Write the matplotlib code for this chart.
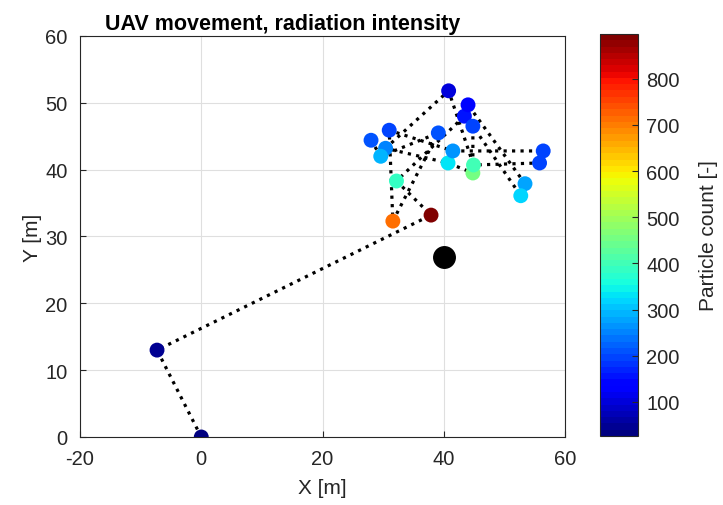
import matplotlib
matplotlib.use("Agg")
import matplotlib.pyplot as plt
import numpy as np

# waypoints in flight order (x, y in metres) and particle counts
path_x = [0.0, -7.3, 37.9, 32.2, 43.4, 44.0, 53.4, 52.7, 44.8, 44.8, 40.7,
          30.4, 40.8, 44.9, 55.8, 56.4, 41.5, 31.0, 31.6, 39.1, 29.6, 28.0]
path_y = [0.0, 13.0, 33.2, 38.3, 48.0, 49.7, 37.9, 36.1, 46.5, 39.5, 41.0,
          43.2, 51.8, 40.7, 41.0, 42.8, 42.8, 45.9, 32.3, 45.5, 42.0, 44.4]
counts = [26, 50, 897, 390, 150, 140, 275, 320, 190, 460, 330,
          245, 100, 395, 195, 190, 265, 200, 715, 205, 285, 215]

source_x = 40.1
source_y = 27.0

ink = "#262626"
plt.rcParams["font.family"] = ["Liberation Sans", "DejaVu Sans"]
plt.rcParams["axes.unicode_minus"] = False

fig = plt.figure(figsize=(7.23, 5.06), dpi=100)
ax = fig.add_axes([0.1107, 0.1344, 0.6708, 0.7925])
cax = fig.add_axes([0.8299, 0.1364, 0.0526, 0.7945])

cmap = plt.get_cmap("jet", 64)

ax.plot(path_x, path_y, linestyle=":", color="black", linewidth=2.3, zorder=2)
sc = ax.scatter(path_x, path_y, c=counts, cmap=cmap, vmin=min(counts),
                vmax=max(counts), s=115, edgecolors="none", zorder=3)
ax.scatter([source_x], [source_y], color="black", s=240, zorder=4)

ax.set_xlim(-20, 60)
ax.set_ylim(0, 60)
ax.set_xticks(np.arange(-20, 61, 20))
ax.set_yticks(np.arange(0, 61, 10))
ax.grid(True, color="#dfdfdf", linewidth=0.8)
ax.set_axisbelow(True)
ax.tick_params(direction="in", labelsize=14.5, colors=ink, length=4, width=0.8)
ax.tick_params(axis="x", pad=9)
ax.tick_params(axis="y", pad=9)
for sp in ax.spines.values():
    sp.set_color(ink)
    sp.set_linewidth(0.8)
ax.set_xlabel("X [m]", fontsize=15, color=ink, labelpad=7)
ax.set_ylabel("Y [m]", fontsize=15, color=ink, labelpad=2)
ax.set_title("UAV movement, radiation intensity", fontsize=15.5,
             fontweight="bold", x=0.4186, pad=5)

cb = fig.colorbar(sc, cax=cax)
cb.set_ticks(np.arange(100, 801, 100))
cb.ax.tick_params(direction="in", labelsize=14.5, colors=ink, length=4,
                  width=0.8, pad=6)
cb.outline.set_edgecolor(ink)
cb.outline.set_linewidth(0.8)
cb.set_label("Particle count [-]", fontsize=15, color=ink, labelpad=14)

fig.savefig("out.png", dpi=100)
